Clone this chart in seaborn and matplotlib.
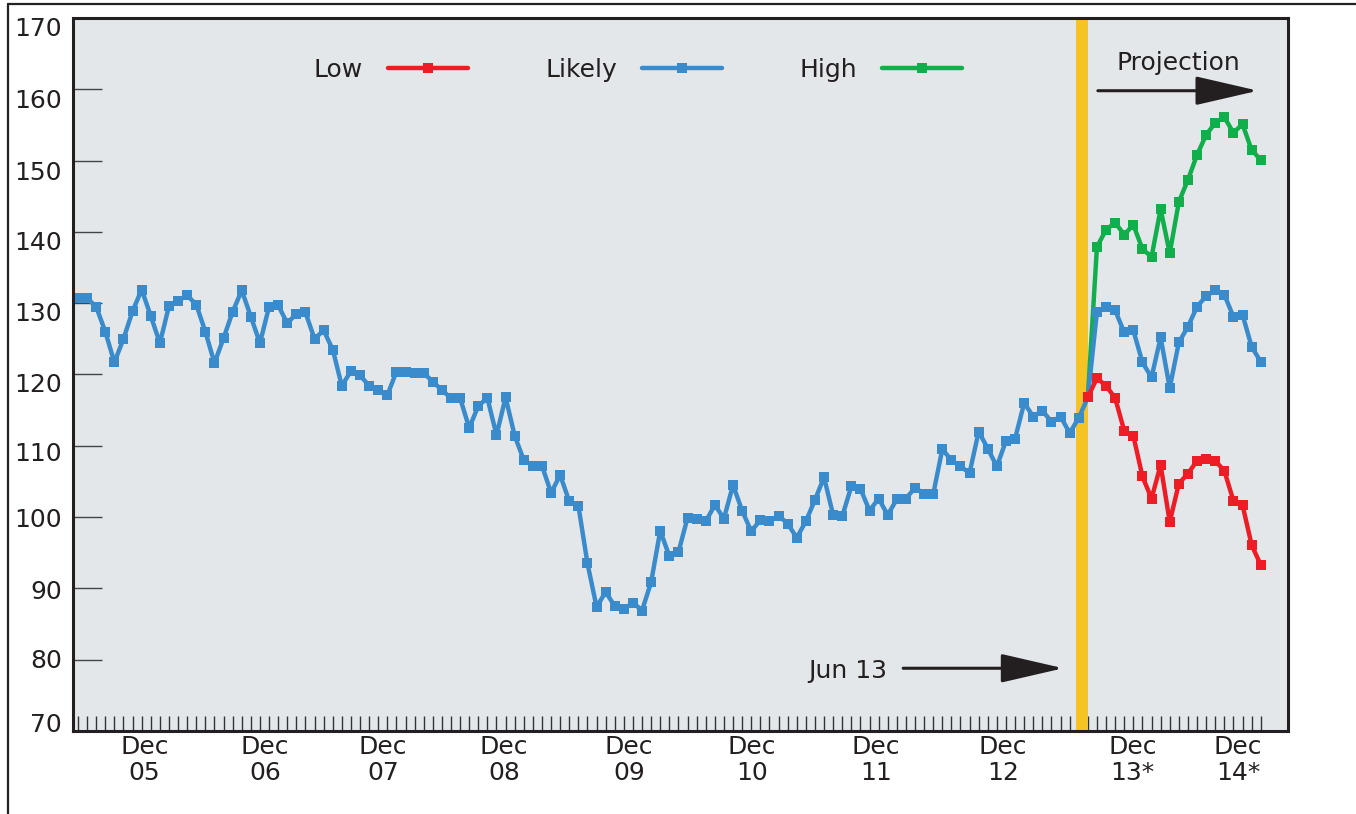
import pandas as pd
import seaborn as sns
import matplotlib.pyplot as plt
from matplotlib.lines import Line2D
from matplotlib.transforms import ScaledTranslation

# (1) 데이터: 과거 실적 + 3가지 전망 (Low / Likely / High)
history = [130.7, 130.7, 129.5, 126.0, 121.7, 125.0, 128.9, 131.9, 128.2, 124.4,
           129.6, 130.3, 131.1, 129.8, 126.0, 121.6, 125.1, 128.8, 131.8, 128.1,
           124.4, 129.5, 129.7, 127.2, 128.5, 128.7, 125.0, 126.2, 123.5, 118.4,
           120.5, 119.9, 118.4, 117.8, 117.1, 120.4, 120.3, 120.2, 120.2, 119.0,
           117.8, 116.7, 116.7, 112.5, 115.6, 116.7, 111.5, 116.8, 111.4, 108.0,
           107.2, 107.2, 103.4, 105.9, 102.2, 101.6, 93.5, 87.4, 89.5, 87.5,
           87.1, 88.0, 86.9, 90.9, 98.1, 94.5, 95.1, 99.9, 99.7, 99.4,
           101.7, 99.8, 104.5, 100.9, 98.0, 99.6, 99.5, 100.2, 99.1, 97.1,
           99.4, 102.4, 105.6, 100.3, 100.1, 104.3, 104.0, 100.9, 102.6, 100.3,
           102.5, 102.6, 104.1, 103.3, 103.2, 109.5, 108.0, 107.1, 106.2, 112.0,
           109.6, 107.1, 110.7, 111.0, 116.0, 114.1, 114.9, 113.4, 114.1, 111.8,
           113.9, 116.8]
likely_proj = [128.8, 129.4, 129.0, 125.9, 126.2, 121.7, 119.6, 125.2, 118.1, 124.5,
               126.7, 129.5, 131.0, 131.8, 131.2, 128.1, 128.4, 123.9, 121.8]
low_proj = [119.5, 118.4, 116.7, 112.1, 111.4, 105.7, 102.6, 107.3, 99.3, 104.7,
            106.1, 107.9, 108.1, 107.9, 106.5, 102.3, 101.7, 96.1, 93.3]
high_proj = [137.9, 140.3, 141.3, 139.6, 141.0, 137.6, 136.5, 143.2, 137.0, 144.2,
             147.3, 150.8, 153.6, 155.3, 156.1, 153.9, 155.1, 151.5, 150.1]

x_labels = ['Dec\n05', 'Dec\n06', 'Dec\n07', 'Dec\n08', 'Dec\n09',
            'Dec\n10', 'Dec\n11', 'Dec\n12', 'Dec\n13*', 'Dec\n14*']
y_ticks = [70, 80, 90, 100, 110, 120, 130, 140, 150, 160, 170]

# 라벨 위치 (레이아웃)
label_pos = [7.3, 20.55, 33.55, 46.85, 60.55, 74.1, 87.7, 101.65, 115.9, 127.5]
y_label_shift = [-8, -1.7, 0.9, 0.2, 5.9, 8.5, 8.5, 8.1, 9.4, 9.0, 8.7]

start = len(history) - 1
likely = history + likely_proj
low = [history[-1]] + low_proj
high = [history[-1]] + high_proj

df = pd.concat([
    pd.DataFrame({'idx': range(start, start + len(high)), 'value': high, 'series': 'High'}),
    pd.DataFrame({'idx': range(len(likely)), 'value': likely, 'series': 'Likely'}),
    pd.DataFrame({'idx': range(start, start + len(low)), 'value': low, 'series': 'Low'}),
], ignore_index=True)

# (2) 스타일
sns.set_style('ticks')
plt.rcParams['font.family'] = ['DejaVu Sans']
text_color = '#231F20'
fs = 18

fig = plt.figure(figsize=(13.56, 8.14), dpi=100)
ax = fig.add_axes([73 / 1356, 83 / 814, 1215 / 1356, 713 / 814])
ax.set_facecolor('#E3E7EA')

ax.axvspan(109.7, 111.0, color='#F6C324', lw=0, zorder=1.5)

palette = {'High': '#10AF4B', 'Likely': '#3A8BCB', 'Low': '#EE1C25'}
sns.lineplot(data=df, x='idx', y='value', hue='series', hue_order=['High', 'Likely', 'Low'],
             palette=palette, marker='s', markersize=7.5, markeredgewidth=0,
             linewidth=3.2, errorbar=None, legend=False, ax=ax)

lines = ax.get_lines()
handles = [lines[2], lines[1], lines[0]]
ax.legend(handles=handles, labels=['Low', 'Likely', 'High'], ncol=3, markerfirst=False,
          frameon=False, loc='center left', bbox_to_anchor=(0.198, 0.927),
          handlelength=3.2, handletextpad=1.0, columnspacing=3.1, fontsize=fs,
          borderpad=0, borderaxespad=0, labelcolor=text_color)

# (3) 축
ax.set_xlim(-0.55, 133.0)
ax.set_ylim(70, 170)
ax.set_xlabel('')
ax.set_ylabel('')
ax.set_xticks(label_pos, labels=x_labels)
ax.set_xticks(range(len(likely)), minor=True)
ax.tick_params(axis='x', which='major', length=0, pad=3, labelsize=fs, labelcolor=text_color)
ax.tick_params(axis='x', which='minor', direction='in', length=10.8, width=1.0, color='#333')
ax.set_yticks(y_ticks)
ax.tick_params(axis='y', which='major', direction='in', length=21, width=1.0, color='#444',
               pad=8, labelsize=fs, labelcolor=text_color)
for lab in ax.get_xticklabels():
    lab.set_linespacing(1.12)
for lab, dy in zip(ax.get_yticklabels(), y_label_shift):
    lab.set_transform(lab.get_transform() + ScaledTranslation(0, -dy / 100, fig.dpi_scale_trans))
for sp in ax.spines.values():
    sp.set_linewidth(2.2)
    sp.set_color(text_color)

# (4) 주석
arrow = dict(arrowstyle='-|>,head_length=1.95,head_width=0.45', mutation_scale=20,
             lw=2.2, color=text_color, shrinkA=0, shrinkB=0)
ax.text(84.6, 78.4, 'Jun 13', ha='center', va='center', fontsize=fs, color=text_color)
ax.annotate('', xy=(108.3, 78.8), xytext=(90.7, 78.8), arrowprops=arrow)
ax.text(120.9, 163.7, 'Projection', ha='center', va='center', fontsize=fs, color=text_color)
ax.annotate('', xy=(129.7, 159.8), xytext=(112.1, 159.8), arrowprops=arrow)

# 바깥 테두리
fig.add_artist(Line2D([8 / 1356, 8 / 1356], [0, 1 - 3.5 / 814], transform=fig.transFigure,
                      color='#222', lw=1.6))
fig.add_artist(Line2D([8 / 1356, 1], [1 - 3.5 / 814, 1 - 3.5 / 814], transform=fig.transFigure,
                      color='#222', lw=1.6))

fig.savefig('out.png', dpi=100)
